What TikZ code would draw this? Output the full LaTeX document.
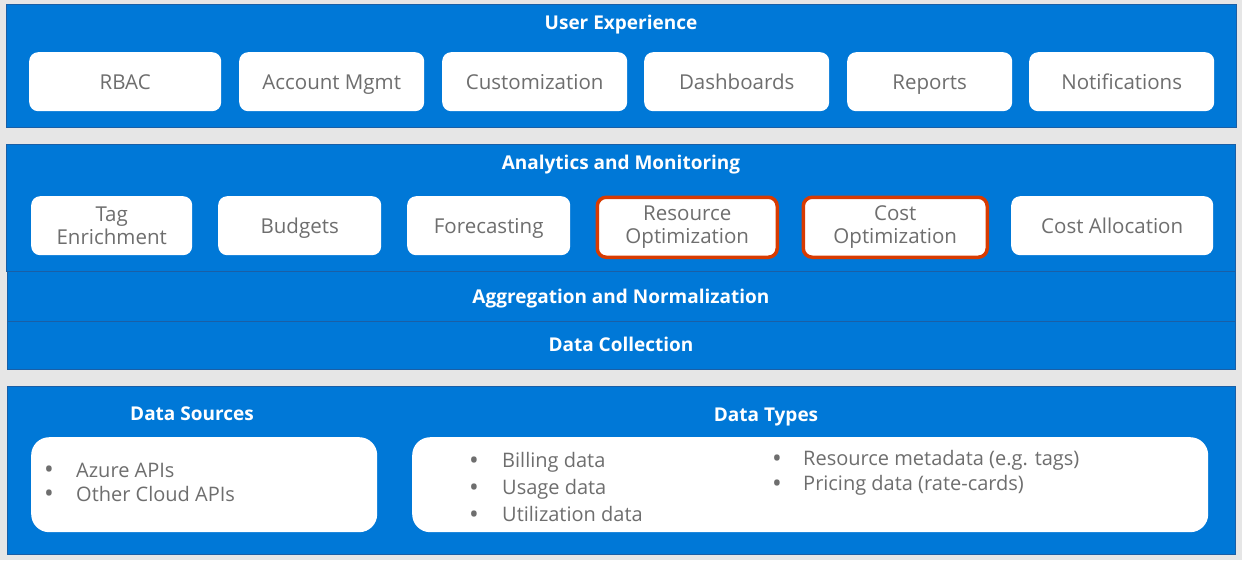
\documentclass[tikz,border=0pt]{standalone}
\usepackage{fontspec}
\setmainfont{Open Sans}
\definecolor{bgc}{HTML}{E6E6E6}
\definecolor{az}{HTML}{0078D7}
\definecolor{azd}{HTML}{1A5FA6}
\definecolor{txt}{HTML}{6E6E6E}
\definecolor{hl}{HTML}{D83B01}
\tikzset{
  panel/.style={fill=az, draw=azd, line width=1pt, inner sep=0pt, anchor=north west},
  ttl/.style={text=white, font=\fontsize{19}{22}\selectfont\bfseries, inner sep=0pt, text height=13.6pt, text depth=0pt},
  btnbase/.style={fill=white, rounded corners=9pt, text=txt, font=\fontsize{20.5}{23.5}\selectfont, minimum height=59pt, inner sep=0pt, align=center, anchor=north west},
  btn/.style={btnbase, text height=14.6pt, text depth=0pt},
  hlbtn/.style={btnbase, draw=hl, line width=3.5pt},
  wbox/.style={fill=white, rounded corners=18pt, inner sep=0pt, anchor=north west, minimum height=95pt},
  blt/.style={text=txt, font=\fontsize{26}{28}\selectfont, inner sep=0pt},
  itm/.style={text=txt, font=\fontsize{20}{23}\selectfont, inner sep=0pt, anchor=west, text height=14.4pt, text depth=0pt},
}
\begin{document}
\begin{tikzpicture}[x=1pt,y=-1pt]
\fill[bgc] (0,0) rectangle (1242,560);
\useasboundingbox (0,0) rectangle (1242,560);
% User experience
\node[panel, minimum width=1230pt, minimum height=123pt] (ux) at (6,4) {};
\node[ttl] (uxt) at (621,23) {User Experience};
\node[btn, minimum width=192pt] (rbac) at (29,52) {RBAC};
\node[btn, minimum width=185pt] (acc) at (239,52) {Account Mgmt};
\node[btn, minimum width=185pt] (cust) at (442,52) {Customization};
\node[btn, minimum width=185pt] (dash) at (644,52) {Dashboards};
\node[btn, minimum width=165pt] (rep) at (847,52) {Reports};
\node[btn, minimum width=185pt] (noti) at (1029,52) {Notifications};
% Analytics
\node[panel, minimum width=1229pt, minimum height=127pt] (am) at (6,144) {};
\node[ttl] (amt) at (621,163) {Analytics and Monitoring};
\node[btnbase, minimum width=161pt] (tag) at (31,196) {Tag\\Enrichment};
\node[btn, minimum width=163pt] (bud) at (218,196) {Budgets};
\node[btn, minimum width=163pt] (fore) at (407,196) {Forecasting};
\node[hlbtn, minimum width=180pt, minimum height=60pt] (ropt) at (595.5,195.5) {Resource\\Optimization};
\node[hlbtn, minimum width=184pt, minimum height=60pt] (copt) at (801.5,195.5) {Cost\\Optimization};
\node[btn, minimum width=202pt] (calloc) at (1011,196) {Cost Allocation};
% bands
\node[panel, minimum width=1228pt, minimum height=50pt] (agg) at (7,271) {};
\node[ttl] (aggt) at (621,297) {Aggregation and Normalization};
\node[panel, minimum width=1228pt, minimum height=48pt] (dc) at (7,321) {};
\node[ttl] (dct) at (621,345) {Data Collection};
% bottom
\node[panel, minimum width=1228pt, minimum height=168pt] (bot) at (7,386) {};
\node[ttl] (dst) at (192,414) {Data Sources};
\node[ttl] (dtt) at (766,415) {Data Types};
\node[wbox, minimum width=346pt] (ds) at (31,437) {};
\node[wbox, minimum width=796pt] (dt) at (412,437) {};
\node[blt] (b1) at (49,472) {•}; \node[itm] (i1) at (76,470) {Azure APIs};
\node[blt] (b2) at (49,496) {•}; \node[itm] (i2) at (76,494) {Other Cloud APIs};
\node[blt] (b3) at (474,463) {•}; \node[itm] (i3) at (502,460) {Billing data};
\node[blt] (b4) at (474,490) {•}; \node[itm] (i4) at (502,487) {Usage data};
\node[blt] (b5) at (474,517) {•}; \node[itm] (i5) at (502,514) {Utilization data};
\node[blt] (b6) at (777,461) {•}; \node[itm] (i6) at (803,458) {Resource metadata (e.g. tags)};
\node[blt] (b7) at (777,486) {•}; \node[itm] (i7) at (803,483) {Pricing data (rate-cards)};
\end{tikzpicture}
\end{document}
